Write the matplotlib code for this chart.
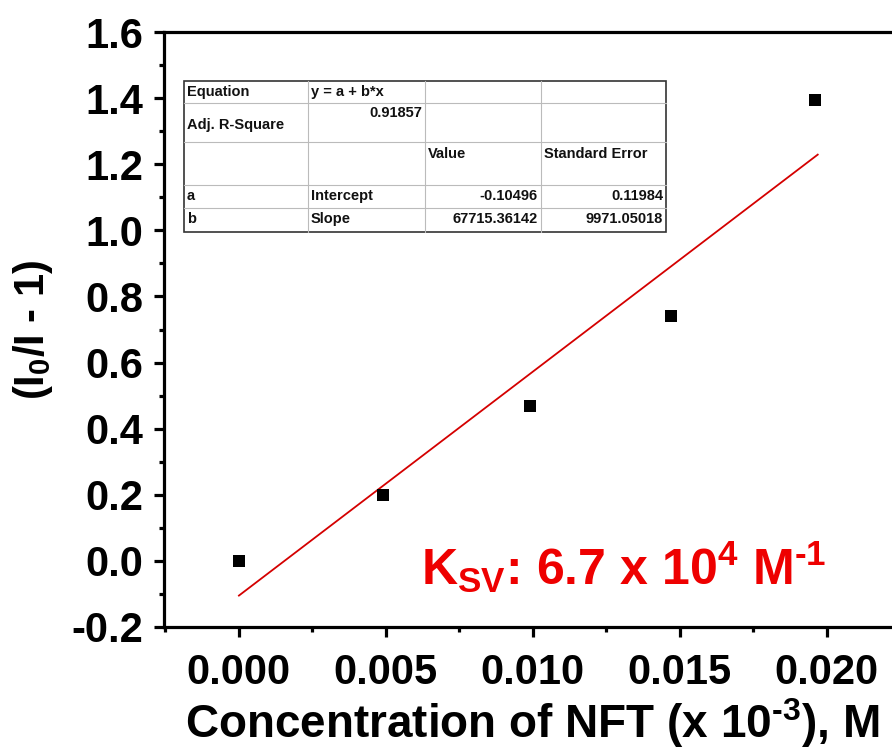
import matplotlib
matplotlib.use("Agg")
import matplotlib.pyplot as plt
from matplotlib.ticker import MultipleLocator, FormatStrFormatter
from matplotlib.lines import Line2D
from matplotlib.patches import Rectangle
import numpy as np

# Data
conc = [0.0, 0.0049, 0.0099, 0.0147, 0.0196]
ratio = [0.0, 0.20, 0.47, 0.74, 1.395]
intercept = -0.10496
slope_plot = 67.71536142  # slope in plotted x units
fit_x = [0.0, 0.0197]

table_text = [
    ["Equation", "y = a + b*x", "", ""],
    ["Adj. R-Square", "0.91857", "", ""],
    ["", "", "Value", "Standard Error"],
    ["a", "Intercept", "-0.10496", "0.11984"],
    ["b", "Slope", "67715.36142", "9971.05018"],
]

plt.rcParams['font.family'] = ['Liberation Sans', 'DejaVu Sans']
plt.rcParams['mathtext.fontset'] = 'custom'
plt.rcParams['mathtext.rm'] = 'Liberation Sans:bold'
plt.rcParams['mathtext.bf'] = 'Liberation Sans:bold'
plt.rcParams['mathtext.it'] = 'Liberation Sans:bold'

fig = plt.figure(figsize=(8.92, 7.51), dpi=100)
W, H = 892, 751
left, right, top, bottom = 164, 900, 32, 627
ax = fig.add_axes([left / W, 1 - bottom / H, (right - left) / W, (bottom - top) / H])

ax.set_xlim(-0.00255, 0.0225)
ax.set_ylim(-0.2, 1.6)

ax.scatter(conc, ratio, marker='s', s=75, color='black', zorder=3, linewidths=0)
fx = np.array(fit_x)
ax.plot(fx, intercept + slope_plot * fx, color='#d40000', lw=1.3, zorder=2)

for s in ['left', 'bottom', 'top']:
    ax.spines[s].set_linewidth(2.3)
ax.spines['right'].set_visible(False)

ax.xaxis.set_major_locator(MultipleLocator(0.005))
ax.xaxis.set_minor_locator(MultipleLocator(0.0025))
ax.yaxis.set_major_locator(MultipleLocator(0.2))
ax.yaxis.set_minor_locator(MultipleLocator(0.1))
ax.xaxis.set_major_formatter(FormatStrFormatter('%.3f'))
ax.yaxis.set_major_formatter(FormatStrFormatter('%.1f'))
ax.tick_params(which='major', direction='out', length=7, width=2.3, labelsize=30)
ax.tick_params(which='minor', direction='out', length=3.6, width=2.3)
ax.tick_params(axis='x', which='major', pad=12)
ax.tick_params(axis='y', which='major', pad=8)
for lab in ax.get_xticklabels() + ax.get_yticklabels():
    lab.set_fontweight('bold')

ax.set_xlabel(r'Concentration of NFT (x 10$^{\text{-}3}$), M', fontsize=33, fontweight='bold', labelpad=2)
ax.set_ylabel(r'(I$_0$/I - 1)', fontsize=30, fontweight='bold', labelpad=12)

ax.text(0.0062, -0.074, r'K$_{\mathrm{SV}}$: 6.7 x 10$^{4}$ M$^{\text{-}1}$', color='#ee0000',
        fontsize=36, fontweight='bold', ha='left', va='baseline')

# Table inset (pixel layout)
col_edges = [184, 308, 425, 541, 666]
row_edges = [81, 103, 142, 185, 208, 232]

def fx_(px):
    return px / W

def fy_(py):
    return 1 - py / H

fig.patches.append(Rectangle((fx_(col_edges[0]), fy_(row_edges[-1])),
                             fx_(col_edges[-1]) - fx_(col_edges[0]),
                             fy_(row_edges[0]) - fy_(row_edges[-1]),
                             transform=fig.transFigure, facecolor='white',
                             edgecolor='#333333', lw=1.2, zorder=5))
for c in col_edges[1:-1]:
    fig.lines.append(Line2D([fx_(c), fx_(c)], [fy_(row_edges[0]), fy_(row_edges[-1])],
                            transform=fig.transFigure, color='#bbbbbb', lw=0.8, zorder=6))
for r in row_edges[1:-1]:
    fig.lines.append(Line2D([fx_(col_edges[0]), fx_(col_edges[-1])], [fy_(r), fy_(r)],
                            transform=fig.transFigure, color='#bbbbbb', lw=0.8, zorder=6))

for i, row in enumerate(table_text):
    for j, txt in enumerate(row):
        if not txt:
            continue
        x0, x1 = col_edges[j], col_edges[j + 1]
        y0 = row_edges[i]
        right_align = (i >= 3 and j >= 2) or (i == 1 and j == 1)
        if i == 1 and j == 0:
            yy = y0 + 22
        elif i == 1 and j == 1:
            yy = y0 + 10
        elif i == 2:
            yy = y0 + 12
        else:
            yy = y0 + 11
        if right_align:
            fig.text(fx_(x1 - 3), fy_(yy), txt, ha='right', va='center', fontsize=10.5,
                     fontweight='bold', color='#111111', zorder=7)
        else:
            fig.text(fx_(x0 + 3), fy_(yy), txt, ha='left', va='center', fontsize=10.5,
                     fontweight='bold', color='#111111', zorder=7)

fig.savefig('out.png', dpi=100)
